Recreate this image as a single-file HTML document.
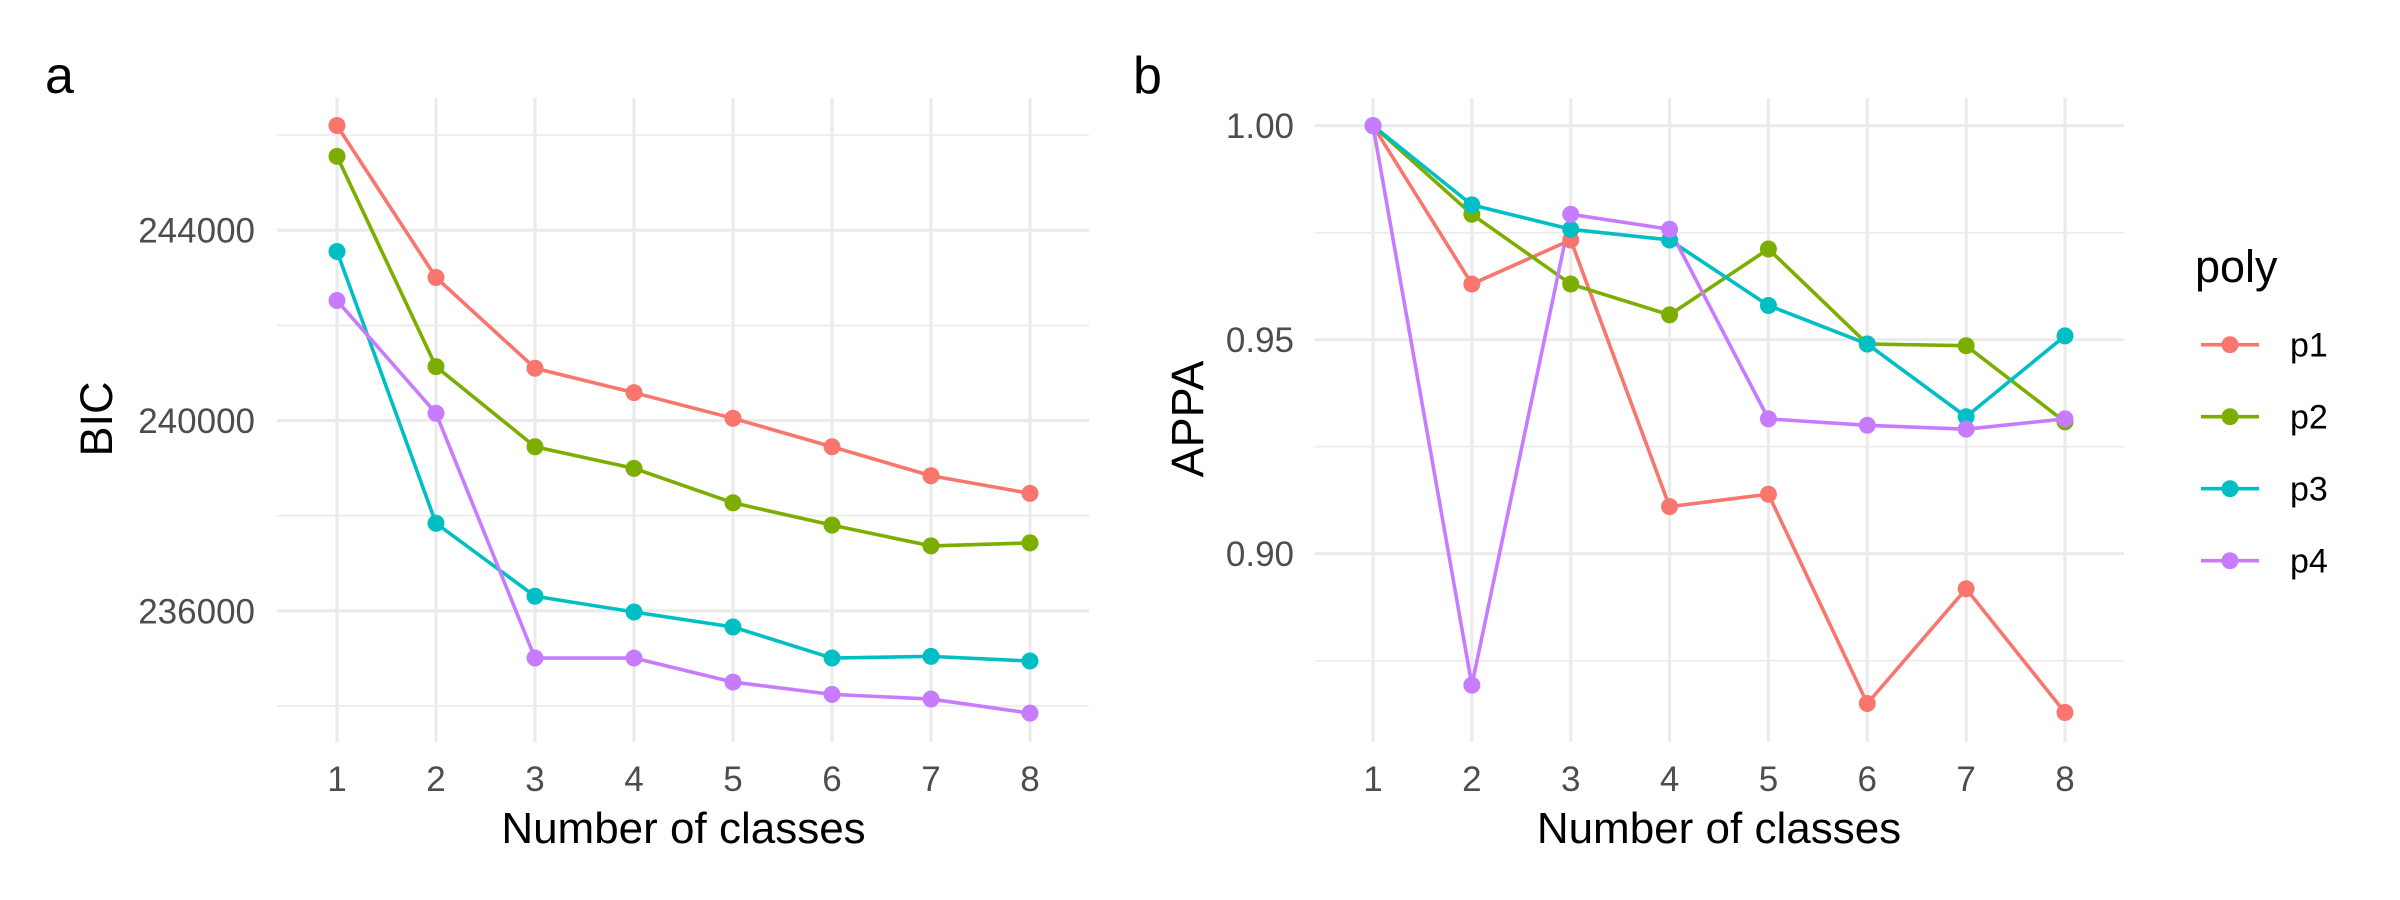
<!DOCTYPE html>
<html><head><meta charset="utf-8"><style>
html,body{margin:0;padding:0;background:#fff;}
svg{display:block;font-family:"Liberation Sans",Arial,sans-serif;}
</style></head><body>
<svg id="chart" width="2400" height="900" viewBox="0 0 2400 900" xmlns="http://www.w3.org/2000/svg">
<rect x="0" y="0" width="2400" height="900" fill="#fff"/>
<g id="panelA"></g>
<g id="panelB"></g>
<g id="legend"></g>
</svg>
<script>
const categories = [1,2,3,4,5,6,7,8];
const seriesNames = ["p1","p2","p3","p4"];
const colors = ["#F8766D","#7CAE00","#00BFC4","#C77CFF"];
const bicP1 = [246200,243006,241099,240585,240046,239449,238838,238468];
const bicP2 = [245553,241133,239449,238994,238270,237800,237364,237427];
const bicP3 = [243553,237840,236306,235975,235660,235007,235042,234944];
const bicP4 = [242522,240152,235007,235007,234502,234243,234145,233849];
const appaP1 = [1.000,0.963,0.9733,0.911,0.9139,0.865,0.8918,0.8629];
const appaP2 = [1.000,0.9793,0.963,0.9558,0.9712,0.949,0.9486,0.9308];
const appaP3 = [1.000,0.9815,0.9758,0.9733,0.958,0.949,0.932,0.9509];
const appaP4 = [1.000,0.8693,0.9793,0.9758,0.9315,0.930,0.9291,0.9315];
const bicMajorTicks = [236000,240000,244000];
const bicMinorTicks = [234000,238000,242000,246000];
const appaMajorTicks = [0.90,0.95,1.00];
const appaMinorTicks = [0.875,0.925,0.975];
const appaTickLabels = ["0.90","0.95","1.00"];

const NS="http://www.w3.org/2000/svg";
function mk(parent,tag,attrs,text){const e=document.createElementNS(NS,tag);for(const k in attrs)e.setAttribute(k,attrs[k]);if(text!==undefined)e.textContent=text;parent.appendChild(e);return e;}

function drawPanel(g, cfg){
  const xs = c => cfg.x1 + (c-1)*(cfg.x8-cfg.x1)/7;
  const ys = v => cfg.yRef0 + (v-cfg.vRef0)*(cfg.yRef1-cfg.yRef0)/(cfg.vRef1-cfg.vRef0);
  cfg.minor.forEach(v=>{const l=mk(g,'line',{x1:cfg.left,x2:cfg.right,y1:ys(v),y2:ys(v),stroke:'#ebebeb','stroke-width':1.7});
    
    });
  cfg.major.forEach((v,i)=>{const l=mk(g,'line',{x1:cfg.left,x2:cfg.right,y1:ys(v),y2:ys(v),stroke:'#ebebeb','stroke-width':3.2});
    
    
    const t=mk(g,'text',{x:cfg.labelRight,y:ys(v)+12.5,'text-anchor':'end','font-size':35,fill:'#4d4d4d'},cfg.labels[i]);
    
    });
  categories.forEach(c=>{const l=mk(g,'line',{x1:xs(c),x2:xs(c),y1:cfg.top,y2:cfg.bottom,stroke:'#ebebeb','stroke-width':3.2});
    
    
    const t=mk(g,'text',{x:xs(c),y:791,'text-anchor':'middle','font-size':35,fill:'#4d4d4d'},String(c));
    
    });
  cfg.series.forEach((vals,si)=>{
    const pts=vals.map((v,i)=>xs(categories[i])+','+ys(v)).join(' ');
    const pl=mk(g,'polyline',{points:pts,fill:'none',stroke:colors[si],'stroke-width':3.6,'stroke-linejoin':'round'});
    
    
  });
  cfg.series.forEach((vals,si)=>{
    vals.forEach((v,i)=>{const c=mk(g,'circle',{cx:xs(categories[i]),cy:ys(v),r:8.5,fill:colors[si]});
      
      });
  });
  const xt=mk(g,'text',{x:(cfg.x1+cfg.x8)/2,y:843,'text-anchor':'middle','font-size':44,fill:'#000'},'Number of classes');
  
  
  const yt=mk(g,'text',{x:0,y:0,'text-anchor':'middle','font-size':45,fill:'#000',transform:'translate('+cfg.yTitleX+',419) rotate(-90)'},cfg.yTitle);
  
  
  const tag=mk(g,'text',{x:cfg.tagX,y:93,'font-size':52,fill:'#000'},cfg.tag);
  
  
}

drawPanel(document.getElementById('panelA'),{
  x1:337,x8:1030,left:277,right:1089,top:98,bottom:742,
  yRef0:420.5,vRef0:240000,yRef1:610.8,vRef1:236000,
  major:bicMajorTicks,minor:bicMinorTicks,labels:bicMajorTicks.map(String),labelRight:255,
  series:[bicP1,bicP2,bicP3,bicP4],yTitle:'BIC',yTitleX:112,tag:'a',tagX:45
});
drawPanel(document.getElementById('panelB'),{
  x1:1373,x8:2065,left:1315,right:2124,top:98,bottom:742,
  yRef0:125.7,vRef0:1.0,yRef1:339.7,vRef1:0.95,
  major:appaMajorTicks,minor:appaMinorTicks,labels:appaTickLabels,labelRight:1294,
  series:[appaP1,appaP2,appaP3,appaP4],yTitle:'APPA',yTitleX:1203,tag:'b',tagX:1133
});

const lg=document.getElementById('legend');
const lt=mk(lg,'text',{x:2195,y:282,'font-size':45,fill:'#000'},'poly');


const keyY=[344.7,416.7,488.7,560.7];
seriesNames.forEach((n,i)=>{
  const e=mk(lg,'g',{});
  
  
  mk(e,'line',{x1:2201,x2:2259,y1:keyY[i],y2:keyY[i],stroke:colors[i],'stroke-width':3.6});
  mk(e,'circle',{cx:2230,cy:keyY[i],r:8.5,fill:colors[i]});
  mk(e,'text',{x:2290,y:keyY[i]+12,'font-size':34,fill:'#000'},n);
});
</script>
</body></html>
